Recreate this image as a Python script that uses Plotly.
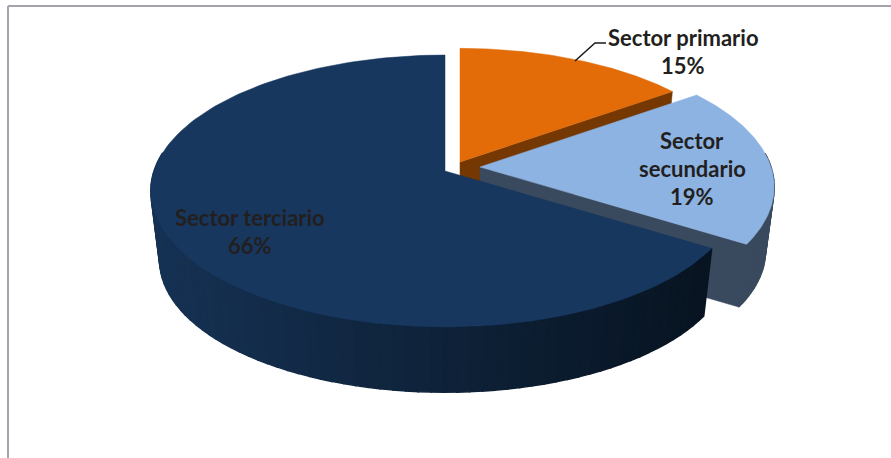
"""
Sectores económicos: tarta 3D separada, dibujada con trazas rellenas.
Plotly no tiene tarta 3D, así que cada porción se proyecta desde su porcentaje.
"""
from __future__ import annotations

import numpy as np
import plotly.graph_objects as go

sectors = ["Sector primario", "Sector secundario", "Sector terciario"]
shares = [15, 19, 66]

top_colors = ["#e36c09", "#8db3e2", "#17375e"]
wall_colors = ["#753802", "#3a4a5e", None]

# vertice de cada porcion una vez separada, en px de pantalla
apex_px = [(460, 162), (480, 167), (445, 171)]
slice_scale = [0.98, 1.0, 1.0]
slice_depth = [70, 65, 70]

# proyeccion del disco
AX, BY, PERSP = 291, 133, 0.147
BOTTOM_SCALE = 0.97


def project(theta, i, bottom=False):
    """theta en radianes, 0 arriba y sentido horario; i es la porcion."""
    apex = apex_px[i]
    u, v = np.sin(theta), -np.cos(theta)
    den = 1 - PERSP * v
    s = slice_scale[i] * (BOTTOM_SCALE if bottom else 1.0)
    dz = slice_depth[i] if bottom else 0
    return apex[0] + s * AX * u / den, apex[1] + dz + s * BY * v / den


def add_poly(fig, xs, ys, color, width=0.5):
    fig.add_trace(go.Scatter(
        x=xs, y=ys, mode="lines", fill="toself", fillcolor=color,
        line={"color": color, "width": width}, hoverinfo="skip",
    ))


def add_top(fig, t0, t1, i):
    ax, ay = apex_px[i]
    t = np.linspace(t0, t1, 160)
    x, y = project(t, i)
    add_poly(fig, [ax, *x, ax], [ay, *y, ay], top_colors[i])


def add_radial_wall(fig, theta, i):
    ax, ay = apex_px[i]
    x0, y0 = project(theta, i)
    x1, y1 = project(theta, i, bottom=True)
    add_poly(fig, [ax, x0, x1, ax, ax],
             [ay, y0, y1, ay + slice_depth[i], ay], wall_colors[i])


def add_outer_wall(fig, t0, t1, i, steps, color_at):
    edges = np.linspace(t0, t1, steps + 1)
    for a, b in zip(edges[:-1], edges[1:]):
        t = np.array([a, b])
        xt, yt = project(t, i)
        xb, yb = project(t, i, bottom=True)
        c = color_at((xt.mean() - 151) / (710 - 151))
        add_poly(fig, [xt[0], xt[1], xb[1], xb[0], xt[0]],
                 [yt[0], yt[1], yb[1], yb[0], yt[0]], c, width=1.5)


def dark_wall_color(f):
    f = float(np.clip(f, 0, 1))
    left, right = np.array([22, 50, 84]), np.array([8, 20, 33])
    r, g, b = (left + (right - left) * f).astype(int)
    return f"rgb({r},{g},{b})"


ends = np.cumsum(shares) / 100 * 2 * np.pi
starts = np.concatenate([[0], ends[:-1]])

fig = go.Figure()

# primario
add_radial_wall(fig, ends[0], 0)
add_top(fig, starts[0], ends[0], 0)

# secundario: la pared solo se ve a partir del extremo derecho
add_outer_wall(fig, np.radians(84), ends[1], 1, 24, lambda f: wall_colors[1])
add_radial_wall(fig, ends[1], 1)
add_top(fig, starts[1], ends[1], 1)

# terciario: el arco visible llega hasta el extremo izquierdo
add_outer_wall(fig, starts[2], np.radians(278), 2, 70, dark_wall_color)
add_top(fig, starts[2], ends[2], 2)

fig.update_layout(
    width=891, height=458,
    margin={"l": 0, "r": 0, "t": 0, "b": 0},
    paper_bgcolor="white", plot_bgcolor="white",
    showlegend=False,
    xaxis={"range": [0, 891], "visible": False, "fixedrange": True},
    yaxis={"range": [458, 0], "visible": False, "fixedrange": True},
    shapes=[
        # marco del grafico
        {"type": "line", "x0": 8, "x1": 8, "y0": 6, "y1": 458,
         "line": {"color": "#a3a3ab", "width": 2}},
        {"type": "line", "x0": 8, "x1": 891, "y0": 6, "y1": 6,
         "line": {"color": "#a3a3ab", "width": 2}},
        # linea guia de la etiqueta
        {"type": "path", "path": "M 606 43 L 595 43 L 575 61",
         "line": {"color": "#1a1a1a", "width": 1.5}},
    ],
)

label_lines = [
    ("Sector primario", 683, 37),
    (f"{shares[0]}%", 683, 65),
    ("Sector", 692, 140),
    ("secundario", 692, 168),
    (f"{shares[1]}%", 692, 196),
    ("Sector terciario", 250, 217),
    (f"{shares[2]}%", 250, 245),
]
for text, x, y in label_lines:
    fig.add_annotation(
        x=x, y=y, text=f"<b>{text}</b>", showarrow=False,
        font={"family": "Lato", "size": 22, "color": "#231f20"},
    )

# la pagina trae un margen de 8 px que desplazaria todo
fig.write_html(
    "out.html",
    config={"displayModeBar": False},
    post_script="document.body.style.margin = '0';",
)
